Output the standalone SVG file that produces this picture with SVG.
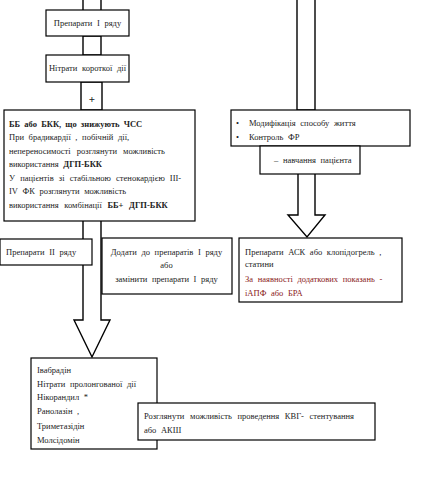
<svg xmlns="http://www.w3.org/2000/svg" width="448" height="500" viewBox="0 0 448 500">
<style>
.box{fill:#fff;stroke:#000;stroke-width:1.2}
.shaft{fill:#fff;stroke:#000;stroke-width:1.4}
text{font-family:"Liberation Serif","Times New Roman",serif;font-size:8.5px;fill:#222;word-spacing:2.5px}
.b{font-weight:bold}
.red{fill:#8b1a1a}
.c{text-anchor:middle}
</style>
<rect width="448" height="500" fill="#fff"/>
<g id="connectors">
<path class="shaft" d="M83,-2 V11 H101 V-2"/>
<rect class="shaft" x="83" y="36" width="18" height="19"/>
<rect class="shaft" x="81" y="82" width="21" height="28"/>
<text x="92" y="103" class="b c" style="font-size:11px">+</text>
<path class="shaft" d="M83,221 V320 H74 L92,357 L110,320 H101 V221"/>
<rect class="shaft" x="297" y="-2" width="18" height="112"/>
<path class="shaft" d="M298,174 V215 H288 L307,237 L325,215 H315 V174"/>
</g>
<g id="n1"><rect class="box" x="46" y="10" width="83" height="26"/><text x="87.5" y="26" class="c">Препарати  I ряду</text></g>
<g id="n2"><rect class="box" x="46" y="55" width="83" height="27"/><text x="87.5" y="71" class="c">Нітрати  короткої  дії</text></g>
<g id="n3"><rect class="box" x="4" y="110" width="191" height="111"/>
<text x="9" y="127" class="b" style="word-spacing:2px">ББ або БКК, що знижують  ЧСС</text>
<text x="9" y="140">При брадикардії , побічній  дії,</text>
<text x="9" y="154" style="word-spacing:4px">непереносимості  розглянути  можливість</text>
<text x="9" y="167">використання  <tspan class="b">ДГП-БКК</tspan></text>
<text x="9" y="181" style="word-spacing:3px">У пацієнтів  зі стабільною  стенокардією  ІІІ-</text>
<text x="9" y="194">ІV ФК розглянути  можливість</text>
<text x="9" y="208" style="word-spacing:3.5px">використання  комбінації  <tspan class="b">ББ+ ДГП-БКК</tspan></text>
</g>
<g id="n4"><rect class="box" x="231" y="110" width="179" height="36"/>
<text x="236" y="126">•</text><text x="249" y="126">Модифікація  способу   життя</text>
<text x="236" y="140">•</text><text x="249" y="140">Контроль  ФР</text>
</g>
<g id="n5"><rect class="box" x="260" y="146" width="100" height="28"/><text x="274" y="163">– навчання  пацієнта</text></g>
<g id="n6"><rect class="box" x="0" y="239" width="92" height="26"/><text x="6" y="255">Препарати  ІІ ряду</text></g>
<g id="n7"><rect class="box" x="102" y="238" width="130" height="56"/>
<text x="166.5" y="255" class="c">Додати  до препаратів  I ряду</text>
<text x="166.5" y="268" class="c">або</text>
<text x="166.5" y="282" class="c">замінити  препарати  I ряду</text>
</g>
<g id="n8"><rect class="box" x="239" y="238" width="163" height="64"/>
<text x="245" y="255">Препарати  АСК  або клопідогрель ,</text>
<text x="245" y="267">статини</text>
<text x="245" y="282" class="red">За наявності  додаткових  показань  -</text>
<text x="245" y="296" class="red">іАПФ або БРА</text>
</g>
<g id="n9"><rect class="box" x="31" y="358" width="126" height="91"/>
<text x="37" y="373">Івабрадін</text>
<text x="37" y="387">Нітрати  пролонгованої  дії</text>
<text x="37" y="400">Нікорандил *</text>
<text x="37" y="414">Ранолазін  ,</text>
<text x="37" y="429">Триметазідін</text>
<text x="37" y="443">Молсідомін</text>
</g>
<g id="n10"><rect class="box" x="138" y="403" width="237" height="37"/>
<text x="144" y="419" style="word-spacing:3.5px">Розглянути  можливість  проведення  КВГ- стентування</text>
<text x="144" y="433">або АКШ</text>
</g>
</svg>
